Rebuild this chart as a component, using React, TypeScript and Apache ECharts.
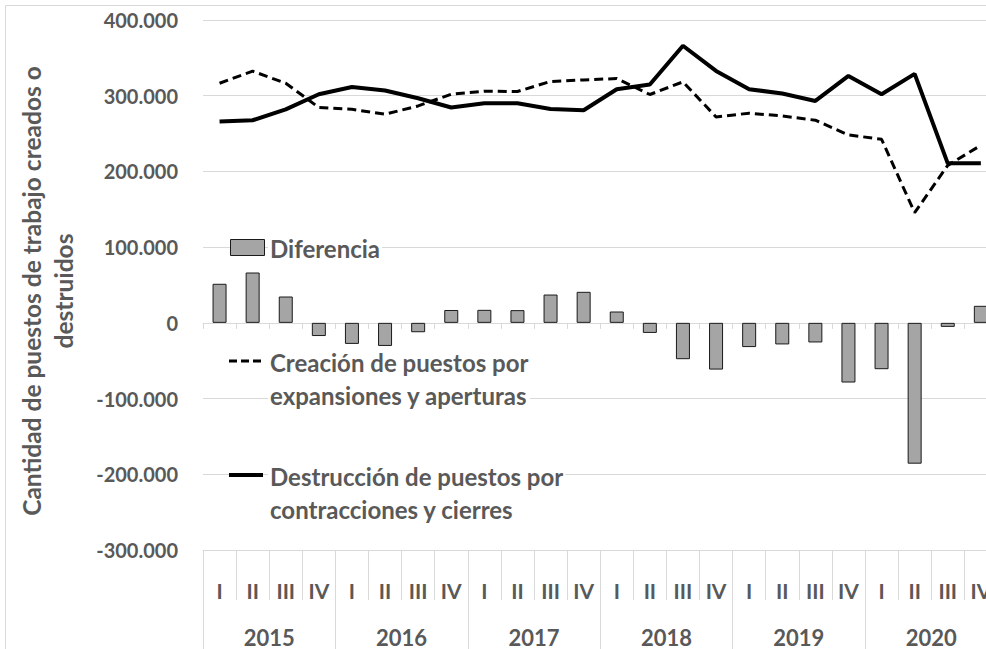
import React, { useEffect, useRef } from 'react';
import * as echarts from 'echarts';

const quarterLabels = [
  'I', 'II', 'III', 'IV', 'I', 'II', 'III', 'IV', 'I', 'II', 'III', 'IV',
  'I', 'II', 'III', 'IV', 'I', 'II', 'III', 'IV', 'I', 'II', 'III', 'IV',
];
const yearLabels = ['2015', '2016', '2017', '2018', '2019', '2020'];

const creacion = [
  316500, 332400, 316500, 284400, 282100, 275500, 286500, 302000, 306000, 305600, 318800, 320900,
  322700, 301600, 318300, 272000, 276900, 273300, 267600, 248200, 242500, 145500, 208000, 234500,
];
const destruccion = [
  265900, 267600, 282000, 302000, 311600, 306900, 296700, 284400, 290000, 290000, 282500, 280800,
  308600, 314800, 366000, 332800, 308600, 302900, 293100, 326200, 302000, 328800, 210700, 210700,
];
const diferencia = [
  51600, 66500, 34800, -17400, -27800, -30500, -12400, 17000, 17200, 16800, 37400, 41000,
  15000, -13300, -48000, -61700, -32000, -28500, -25900, -78800, -61200, -186000, -5300, 22500,
];

const yTicks = { min: -300000, max: 400000, interval: 100000 };

const yTitle = 'Cantidad de puestos de trabajo creados o\ndestruidos';
const legendDiferencia = 'Diferencia';
const legendCreacion = ['Creación de puestos por', 'expansiones y aperturas'];
const legendDestruccion = ['Destrucción de puestos por', 'contracciones y cierres'];

const TEXT = '#595959';
const GRID = '#d9d9d9';
const FONT = 'Lato';

function fmt(v: number): string {
  if (v === 0) return '0';
  const s = Math.abs(v).toString().replace(/\B(?=(\d{3})+(?!\d))/g, '.');
  return (v < 0 ? '-' : '') + s;
}

export default function App() {
  const ref = useRef<HTMLDivElement>(null);
  useEffect(() => {
    if (!ref.current) return;
    const chart = echarts.init(ref.current, undefined, { renderer: 'svg' });
    const legendText = {
      fontFamily: FONT, fontWeight: 'bold', fontSize: 24, fill: TEXT,
      verticalAlign: 'middle', backgroundColor: '#ffffff', padding: [0, 2, 0, 2],
    };
    chart.setOption({
      animation: false,
      backgroundColor: '#ffffff',
      grid: { left: 203, top: 20, width: 794.4, height: 530 },
      xAxis: [
        {
          type: 'category',
          data: quarterLabels,
          position: 'bottom',
          axisLine: { onZero: true, lineStyle: { color: GRID, width: 1 } },
          axisTick: { show: true, length: 6, lineStyle: { color: GRID } },
          axisLabel: { show: false },
        },
        {
          type: 'category',
          data: quarterLabels,
          position: 'bottom',
          axisLine: { onZero: false, show: true, lineStyle: { color: GRID, width: 1 } },
          axisTick: { show: true, length: 50, lineStyle: { color: GRID } },
          axisLabel: { interval: 0, margin: 30, color: TEXT, fontFamily: FONT, fontWeight: 'bold', fontSize: 21 },
        },
        {
          type: 'category',
          data: yearLabels,
          position: 'bottom',
          axisLine: { onZero: false, show: false },
          axisTick: { show: true, length: 100, lineStyle: { color: GRID } },
          axisLabel: { interval: 0, margin: 76, color: TEXT, fontFamily: FONT, fontWeight: 'bold', fontSize: 22 },
        },
      ],
      yAxis: {
        type: 'value',
        min: yTicks.min,
        max: yTicks.max,
        interval: yTicks.interval,
        axisLine: { show: false },
        axisTick: { show: false },
        splitLine: { lineStyle: { color: GRID, width: 1 } },
        axisLabel: { margin: 25, color: TEXT, fontFamily: FONT, fontWeight: 'bold', fontSize: 20, formatter: fmt },
      },
      series: [
        {
          name: 'Diferencia',
          type: 'bar',
          xAxisIndex: 0,
          data: diferencia,
          barWidth: 14,
          itemStyle: { color: '#a5a5a5', borderColor: '#1a1a1a', borderWidth: 1 },
        },
        {
          name: 'Creación de puestos por expansiones y aperturas',
          type: 'line',
          xAxisIndex: 0,
          data: creacion,
          symbol: 'none',
          lineStyle: { color: '#000', width: 3, type: [9, 5] },
        },
        {
          name: 'Destrucción de puestos por contracciones y cierres',
          type: 'line',
          xAxisIndex: 0,
          data: destruccion,
          symbol: 'none',
          lineStyle: { color: '#000', width: 4 },
        },
      ],
      graphic: [
        { type: 'rect', z: 1, shape: { x: 5.5, y: 5.5, width: 2000, height: 2000 }, style: { fill: 'none', stroke: GRID, lineWidth: 1 }, silent: true },
        {
          type: 'text', z: 10, x: 47, y: 291, rotation: Math.PI / 2,
          style: { text: yTitle, fontFamily: FONT, fontWeight: 'bold', fontSize: 24.5, lineHeight: 32, fill: TEXT, align: 'center', verticalAlign: 'middle' },
        },
        { type: 'rect', z: 10, shape: { x: 230.5, y: 239.5, width: 34, height: 16 }, style: { fill: '#a5a5a5', stroke: '#1a1a1a', lineWidth: 1 } },
        { type: 'text', z: 10, x: 268, y: 248, style: { ...legendText, text: legendDiferencia } },
        { type: 'line', z: 10, shape: { x1: 229, y1: 361, x2: 263, y2: 361 }, style: { stroke: '#000', lineWidth: 3, lineDash: [8, 4] } },
        { type: 'text', z: 10, x: 268, y: 362, style: { ...legendText, text: legendCreacion[0] } },
        { type: 'text', z: 10, x: 268, y: 395, style: { ...legendText, text: legendCreacion[1] } },
        { type: 'line', z: 10, shape: { x1: 229, y1: 475, x2: 263, y2: 475 }, style: { stroke: '#000', lineWidth: 4 } },
        { type: 'text', z: 10, x: 268, y: 476, style: { ...legendText, text: legendDestruccion[0] } },
        { type: 'text', z: 10, x: 268, y: 509, style: { ...legendText, text: legendDestruccion[1] } },
      ],
    });
    return () => chart.dispose();
  }, []);
  return (
    <div style={{ position: 'fixed', left: 0, top: 0, width: 986, height: 649, overflow: 'hidden', background: '#fff' }}>
      <div ref={ref} style={{ width: 1000, height: 649 }} />
    </div>
  );
}
